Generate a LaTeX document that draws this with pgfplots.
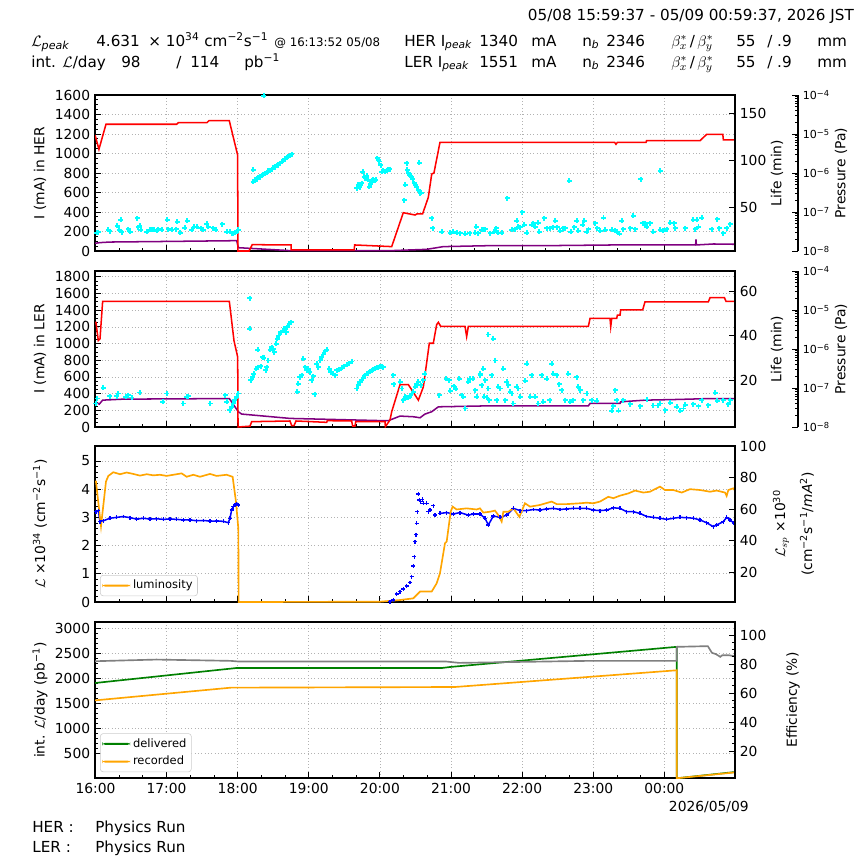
\documentclass[border=0pt]{standalone}
\usepackage{pgfplots}
\pgfplotsset{compat=1.18}
\usepackage{fontspec}
\setmainfont{DejaVu Sans}
\definecolor{lumorange}{RGB}{255,165,0}
\definecolor{mplgreen}{RGB}{0,128,0}
\definecolor{mplpurple}{RGB}{128,0,128}
\definecolor{mplgray}{RGB}{128,128,128}
\definecolor{mplcyan}{RGB}{0,255,255}
\definecolor{mplblue}{RGB}{0,0,255}
\definecolor{mplred}{RGB}{255,0,0}
\definecolor{leggray}{RGB}{204,204,204}
\pgfplotsset{
 panel/.style={
  scale only axis, width=460.8bp, height=112.32bp,
  xmin=15.9936, xmax=24.9936,
  xtick={16,17,18,19,20,21,22,23,24}, minor x tick num=2,
  xticklabels={},
  xtick pos=left, ytick pos=left, tick align=inside,
  grid=major, major grid style={draw=gray!60, dotted, line width=0.5pt},
  axis line style={line width=0.8pt},
  tick style={black, line width=0.6pt},
  major tick length=4.5bp, minor tick length=2.5bp,
  tick label style={font=\fontsize{10}{12}\selectfont},
  /pgf/number format/assume math mode=true,
  /pgf/number format/1000 sep={},
  scaled y ticks=false,
 },
 rpanel/.style={
  scale only axis, width=460.8bp, height=112.32bp,
  xmin=15.9936, xmax=24.9936,
  axis y line*=right, hide x axis,
  tick align=inside,
  axis line style={line width=0.8pt},
  tick style={black, line width=0.6pt},
  major tick length=4.5bp, minor tick length=2.5bp,
  tick label style={font=\fontsize{10}{12}\selectfont},
  /pgf/number format/assume math mode=true,
 },
 press/.style={
  scale only axis, width=36bp, height=112.32bp, xmin=0, xmax=1,
  ymin=1e-8, ymax=1e-4,
  axis y line*=right, hide x axis, tick align=inside,
  ytick={1e-8,1e-7,1e-6,1e-5,1e-4},
  minor ytick={2e-8,3e-8,4e-8,5e-8,6e-8,7e-8,8e-8,9e-8,2e-7,3e-7,4e-7,5e-7,6e-7,7e-7,8e-7,9e-7,2e-6,3e-6,4e-6,5e-6,6e-6,7e-6,8e-6,9e-6,2e-5,3e-5,4e-5,5e-5,6e-5,7e-5,8e-5,9e-5},
  yticklabels={10\textsuperscript{−8},10\textsuperscript{−7},10\textsuperscript{−6},10\textsuperscript{−5},10\textsuperscript{−4}},
  tick label style={font=\fontsize{8}{9.6}\selectfont},
  major tick length=4bp, minor tick length=2bp,
  axis line style={line width=0.8pt},
  tick style={black, line width=0.6pt},
 },
 cyanpts/.style={only marks, mark=+, mark size=1.8bp, draw=mplcyan, color=mplcyan, mark options={draw=mplcyan, fill=mplcyan, line width=1.3pt, solid}},
 bluepts/.style={draw=mplblue, color=mplblue, mark=+, mark size=1.4bp, mark options={draw=mplblue, line width=0.9pt, solid}},
 leg/.style={legend style={font=\fontsize{8.3}{10}\selectfont, draw=leggray, rounded corners=2pt, fill=white, inner sep=1.5pt, row sep=1pt, cells={anchor=west}},
   legend image code/.code={\path[draw=none, ##1] (0bp,-0.75bp) rectangle (20bp,0.75bp);}},
}
\begin{document}
\begin{tikzpicture}
\useasboundingbox (0,0) rectangle (622.08bp,-622.08bp);
% ---------------- header
\node[anchor=base west, font=\fontsize{11}{13}\selectfont] at (376.56bp,-14.4bp) {05/08 15:59:37 - 05/09 00:59:37, 2026 JST};
\begin{scope}[every node/.style={anchor=base west, font=\fontsize{11}{13}\selectfont, inner sep=0pt}]
\node at (22.32bp,-33.12bp) {$\mathcal{L}_{\mbox{\fontsize{8}{9}\selectfont\itshape peak}}$};
\node at (69.12bp,-33.12bp) {4.631};
\node at (106.56bp,-33.12bp) {× 10\textsuperscript{34} cm\textsuperscript{−2}s\textsuperscript{−1}};
\node[font=\fontsize{8.5}{10}\selectfont] at (197.28bp,-33.12bp) {@ 16:13:52 05/08};
\node at (290.88bp,-33.12bp) {HER I\textsubscript{\itshape peak}};
\node at (344.88bp,-33.12bp) {1340};
\node at (382.32bp,-33.12bp) {mA};
\node at (419.04bp,-33.12bp) {n\textsubscript{\itshape b}};
\node at (436.32bp,-33.12bp) {2346};
\node at (483.12bp,-33.12bp) {$\beta^{*}_{x}$\,/\,$\beta^{*}_{y}$};
\node at (529.92bp,-33.12bp) {55};
\node at (552.24bp,-33.12bp) {/ .9};
\node at (588.24bp,-33.12bp) {mm};
\node at (22.32bp,-48.24bp) {int. $\mathcal{L}$/day};
\node at (87.12bp,-48.24bp) {98};
\node at (126.72bp,-48.24bp) {/};
\node at (136.8bp,-48.24bp) {114};
\node at (175.68bp,-48.24bp) {pb\textsuperscript{−1}};
\node at (290.88bp,-48.24bp) {LER I\textsubscript{\itshape peak}};
\node at (344.88bp,-48.24bp) {1551};
\node at (382.32bp,-48.24bp) {mA};
\node at (419.04bp,-48.24bp) {n\textsubscript{\itshape b}};
\node at (436.32bp,-48.24bp) {2346};
\node at (483.12bp,-48.24bp) {$\beta^{*}_{x}$\,/\,$\beta^{*}_{y}$};
\node at (529.92bp,-48.24bp) {55};
\node at (552.24bp,-48.24bp) {/ .9};
\node at (588.24bp,-48.24bp) {mm};
% footer
\node at (23.04bp,-599.04bp) {HER :};
\node at (68.4bp,-599.04bp) {Physics Run};
\node at (23.04bp,-613.44bp) {LER :};
\node at (68.4bp,-613.44bp) {Physics Run};
\node[anchor=base east, font=\fontsize{10}{12}\selectfont] at (539.28bp,-583.92bp) {2026/05/09};
\end{scope}
% axis labels
\begin{scope}[every node/.style={rotate=90, font=\fontsize{10}{12}\selectfont, anchor=center}]
\node at (28.8bp,-124.56bp) {I (mA) in HER};
\node at (28.8bp,-251.28bp) {I (mA) in LER};
\node at (28.8bp,-377.28bp) {$\mathcal{L}$ ×10\textsuperscript{34} (cm\textsuperscript{−2}s\textsuperscript{−1})};
\node at (28.8bp,-504bp) {int. $\mathcal{L}$/day (pb\textsuperscript{−1})};
\node at (559.44bp,-124.56bp) {Life (min)};
\node at (559.44bp,-251.28bp) {Life (min)};
\node at (605.52bp,-124.56bp) {Pressure (Pa)};
\node at (605.52bp,-251.28bp) {Pressure (Pa)};
\node at (562.32bp,-377.28bp) {$\mathcal{L}_{sp}$ ×10\textsuperscript{30}};
\node at (581.04bp,-377.28bp) {(cm\textsuperscript{−2}s\textsuperscript{−1}/{\itshape mA}\textsuperscript{2})};
\node at (570.96bp,-504bp) {Efficiency (\%)};
\end{scope}

% ================= PANEL 1 : HER
\begin{axis}[panel, at={(68.4bp,-180.72bp)}, anchor=south west,
  ymin=0, ymax=1600, ytick={0,200,...,1600}, minor y tick num=3]
\addplot[cyanpts] coordinates {
(16.017,188)(16.040,192)(16.181,216)(16.204,205)(16.307,257)(16.336,216)(16.354,318)(16.368,192)(16.462,222)(16.486,198)(16.589,335)(16.603,243)(16.626,257)(16.636,216)(16.720,198)(16.767,216)(16.790,222)(16.823,216)(16.861,209)(16.884,222)(16.931,216)(17.011,318)(17.025,222)(17.072,216)(17.133,222)(17.151,301)(17.189,188)(17.259,240)(17.292,311)(17.353,216)(17.386,250)(17.423,250)(17.479,233)(17.517,216)(17.564,277)(17.587,250)(17.657,233)(17.695,216)(17.784,274)(17.845,198)(17.892,198)(17.915,181)(17.939,175)(17.962,188)(17.986,198)(18.009,216)
(18.220,711)(18.244,729)(18.267,735)(18.290,756)(18.314,756)(18.337,777)(18.361,780)(18.384,797)(18.408,804)(18.431,824)(18.455,824)(18.478,841)(18.501,852)(18.525,859)(18.548,879)(18.572,882)(18.595,900)(18.619,913)(18.642,927)(18.666,944)(18.689,954)(18.712,968)(18.736,982)(18.759,992)(18.220,831)(18.37,1590)
(19.673,643)(19.697,677)(19.720,653)(19.744,694)(19.758,814)(19.777,763)(19.791,746)(19.814,770)(19.838,729)(19.852,660)(19.870,688)(19.884,711)(19.908,735)(19.931,722)(19.945,729)(19.964,951)(19.978,934)(19.992,917)(20.011,882)(20.025,814)(20.048,821)(20.072,814)(20.095,824)(20.119,831)(20.142,841)
(20.339,523)(20.353,677)(20.377,900)(20.386,831)(20.400,797)(20.414,780)(20.433,770)(20.447,756)(20.461,735)(20.480,694)(20.494,677)(20.517,660)(20.541,626)(20.564,592)(20.578,599)(20.555,906)(20.728,335)(20.742,233)
(20.869,198)(20.986,188)(21.033,198)(21.080,188)(21.127,181)(21.197,175)(21.267,181)(21.338,188)(21.352,250)(21.384,181)(21.431,216)(21.478,222)
(21.464,222)(21.549,181)(21.605,198)(21.633,233)(21.666,188)(21.713,188)(21.792,540)(21.853,216)(21.900,222)(21.924,311)(21.947,250)(21.971,243)(22.003,397)(22.027,267)(22.064,188)(22.135,267)(22.158,284)(22.182,250)(22.228,291)(22.242,198)(22.308,335)(22.346,233)(22.392,233)(22.439,243)(22.463,311)(22.496,243)(22.533,209)(22.580,233)(22.603,233)(22.664,718)(22.683,198)(22.735,243)(22.768,311)(22.791,209)(22.852,267)(22.871,311)(22.908,198)(22.932,222)(23.025,284)(23.058,233)(23.096,209)(23.143,342)(23.166,216)(23.260,216)(23.307,209)(23.330,198)(23.368,175)(23.400,311)(23.424,222)(23.518,233)(23.564,363)(23.588,222)(23.668,735)(23.696,284)(23.728,284)(23.752,250)(23.799,284)(23.846,198)(23.940,821)(23.940,216)(23.986,209)(24.033,222)(24.080,291)(24.136,284)(24.150,233)(24.291,233)(24.408,318)(24.432,222)(24.455,318)(24.479,250)(24.526,342)(24.666,222)(24.746,328)(24.774,233)(24.830,181)(24.877,233)(24.924,274)
};
\addplot[draw=mplpurple, line width=1.1pt] coordinates {
(15.994,79)(16.064,86)(16.204,92)(17.0,98)(17.986,106)(18.009,34)(18.736,4)(20.2,5)(20.658,17)(20.892,45)(21.549,55)(22.346,55)(23.283,62)(24.40,62)(24.44,62)(24.445,120)(24.45,62)(24.69,72)(24.993,69)
};
\addplot[draw=mplred, line width=1.1pt] coordinates {
(15.994,1190)(16.049,1043)(16.148,1300)(17.142,1300)(17.165,1316)(17.568,1316)(17.596,1337)(17.882,1337)(17.999,985)(18.004,0)(18.16,0)(18.205,65)(18.75,62)(18.752,12)(19.638,12)(19.645,62)(20.166,45)(20.329,393)(20.494,369)(20.52,380)(20.60,380)(20.681,551)(20.729,790)(20.76,800)(20.845,1115)(23.30,1115)(23.32,1095)(23.34,1115)(23.743,1115)(23.75,1132)(24.502,1132)(24.596,1197)(24.822,1197)(24.83,1139)(24.993,1139)
};
\end{axis}
\begin{axis}[rpanel, at={(68.4bp,-180.72bp)}, anchor=south west, ymin=3, ymax=170, ytick={50,100,150}]
\end{axis}
\begin{semilogyaxis}[press, at={(538.56bp,-180.72bp)}, anchor=south west]
\end{semilogyaxis}

% ================= PANEL 2 : LER
\begin{axis}[panel, at={(68.4bp,-307.44bp)}, anchor=south west,
  ymin=0, ymax=1870, ytick={0,200,...,1800}, minor y tick num=3]
\addplot[cyanpts] coordinates {
(16.007,282)(16.026,341)(16.111,472)(16.204,369)(16.298,369)(16.321,401)(16.425,361)(16.462,381)(16.509,353)(16.626,413)(16.945,302)(17.001,401)(17.236,282)(17.283,361)(17.306,369)(17.611,282)(17.822,381)(17.845,302)(17.892,202)(17.915,242)(17.939,282)(17.962,322)(17.986,361)(18.009,401)
(18.173,1544)(18.173,1175)(18.281,925)(18.187,560)(18.211,599)(18.229,639)(18.258,699)(18.290,719)(18.323,727)(18.351,838)(18.370,830)(18.398,679)(18.408,719)(18.431,798)(18.455,925)(18.478,957)(18.501,937)(18.515,897)(18.539,997)(18.558,1056)(18.581,1096)(18.605,1135)(18.633,1155)(18.656,1175)(18.680,1135)(18.698,1195)(18.722,1235)(18.750,1255)
(18.839,421)(18.853,520)(18.876,599)(18.900,619)(18.923,818)(18.947,719)(18.970,679)(18.994,699)(19.017,659)(19.041,560)(19.064,607)(19.087,393)(19.111,758)(19.134,719)(19.158,798)(19.181,838)(19.205,869)(19.228,909)(19.251,925)
(19.289,699)(19.308,659)(19.336,639)(19.369,619)(19.392,679)(19.430,687)(19.462,711)(19.495,727)(19.533,750)(19.570,766)(19.603,786)
(19.673,461)(19.697,500)(19.720,540)(19.744,560)(19.767,592)(19.791,619)(19.814,639)(19.837,647)(19.861,667)(19.884,679)(19.908,691)(19.931,703)(19.955,711)(19.978,719)(20.001,727)(20.025,727)(20.048,719)
(20.189,619)(20.198,512)(20.283,540)(20.306,461)(20.330,322)(20.353,361)(20.377,353)(20.400,353)(20.423,361)(20.447,401)(20.470,421)(20.494,480)(20.517,512)(20.541,540)(20.573,500)(20.611,560)(20.634,639)
(20.836,381)(20.930,580)(20.976,560)(20.986,433)(21.042,488)(21.070,457)(21.117,580)(21.150,381)(21.173,361)(21.197,222)(21.244,540)(21.267,580)(21.305,580)(21.338,441)(21.361,361)(21.408,639)(21.455,699)(21.478,560)(21.525,461)(21.539,322)
(21.408,619)(21.431,500)(21.464,361)(21.502,353)(21.525,1108)(21.596,1056)(21.572,619)(21.619,798)(21.642,322)(21.666,480)(21.689,461)(21.736,699)(21.760,322)(21.783,540)(21.806,500)(21.830,421)(21.853,401)(21.877,282)(21.924,480)(21.947,461)(21.971,361)(22.041,552)(22.064,758)(22.111,361)(22.135,619)(22.182,361)(22.228,282)(22.275,619)(22.299,302)(22.346,580)(22.392,322)(22.416,758)(22.439,639)(22.486,619)(22.524,512)(22.557,441)(22.603,322)(22.650,639)(22.674,302)(22.721,322)(22.768,599)(22.791,480)(22.814,441)(22.861,322)(22.908,401)(22.978,322)(23.049,314)(23.260,195)(23.283,250)(23.307,441)(23.330,322)(23.354,195)(23.424,322)(23.518,274)(23.658,250)(23.752,330)(23.846,258)(23.916,258)(23.940,282)(24.010,202)(24.080,290)(24.174,242)(24.221,195)(24.268,222)(24.291,266)(24.408,274)(24.479,250)(24.526,322)(24.619,262)(24.713,409)(24.746,314)(24.830,322)(24.900,274)(24.924,322)
};
\addplot[draw=mplpurple, line width=1.1pt] coordinates {
(15.994,302)(16.054,274)(16.101,322)(16.392,334)(17.883,341)(18.009,183)(18.056,155)(18.736,103)(20.048,76)(20.119,76)(20.283,131)(20.470,123)(20.564,111)(20.634,155)(20.728,183)(20.822,242)(21.549,254)(22.932,254)(22.955,282)(23.377,282)(23.386,302)(23.728,322)(24.174,330)(24.643,341)(24.993,341)
};
\addplot[draw=mplred, line width=1.1pt] coordinates {
(15.994,1255)(16.007,1255)(16.040,1036)(16.064,1056)(16.101,1505)(17.883,1505)(17.948,1036)(18.000,838)(18.005,0)(18.173,10)(18.197,64)(18.736,72)(18.759,16)(18.792,16)(18.820,72)(19.251,56)(19.261,76)(19.603,72)(19.617,12)(19.650,12)(19.660,64)(20.072,64)(20.077,4)(20.142,84)(20.166,183)(20.283,508)(20.400,508)(20.541,322)(20.611,480)(20.695,1004)(20.751,1004)(20.798,1227)(20.822,1255)(20.855,1207)(21.197,1207)(21.220,1084)(21.244,1207)(22.932,1207)(22.955,1302)(23.236,1302)(23.246,1203)(23.26,1302)(23.330,1302)(23.340,1342)(23.377,1342)(23.386,1405)(23.696,1405)(23.728,1501)(24.619,1501)(24.643,1552)(24.844,1552)(24.868,1505)(24.993,1505)
};
\end{axis}
\begin{axis}[rpanel, at={(68.4bp,-307.44bp)}, anchor=south west, ymin=-1, ymax=69, ytick={20,40,60}]
\end{axis}
\begin{semilogyaxis}[press, at={(538.56bp,-307.44bp)}, anchor=south west]
\end{semilogyaxis}

% ================= PANEL 3 : luminosity
\begin{axis}[panel, leg, at={(68.4bp,-433.44bp)}, anchor=south west,
  ymin=0, ymax=5.53, ytick={0,1,...,5}, minor y tick num=4,
  legend style={at={(0.008,0.038)}, anchor=south west}]
\addlegendimage{fill=lumorange}
\addlegendentry{luminosity}
\addplot[bluepts, line width=1.1pt, forget plot] coordinates {
(16.007,3.20)(16.040,3.24)(16.064,2.85)(16.111,2.88)(16.204,2.97)(16.298,3.00)(16.392,3.03)(16.486,2.99)(16.579,2.94)(16.673,2.97)(16.767,2.94)(16.861,2.95)(16.954,2.93)(17.048,2.94)(17.142,2.93)(17.236,2.91)(17.329,2.91)(17.423,2.88)(17.517,2.89)(17.611,2.87)(17.704,2.87)(17.798,2.86)(17.868,2.81)(17.892,2.97)(17.915,3.26)(17.939,3.38)(17.962,3.44)(17.986,3.47)(18.009,3.44)
};
\addplot[bluepts, only marks, forget plot] coordinates {
(20.142,0.01)(20.189,0.07)(20.235,0.28)(20.282,0.37)(20.329,0.46)(20.376,0.57)(20.423,0.69)(20.446,0.90)(20.470,1.28)(20.484,1.61)(20.493,2.14)(20.507,2.38)(20.517,2.79)(20.526,3.20)(20.540,3.83)(20.554,3.62)(20.573,3.56)(20.596,3.64)(20.610,3.50)(20.657,3.50)(20.681,3.20)(20.704,3.26)(20.751,3.41)(20.775,3.08)
};
\addplot[bluepts, line width=1.1pt, forget plot] coordinates {
(20.845,3.14)(20.939,3.17)(21.032,3.12)(21.126,3.17)(21.243,3.08)(21.314,3.12)(21.407,3.12)(21.478,2.97)(21.525,2.73)(21.595,3.05)(21.689,3.00)(21.782,3.08)(21.876,3.32)(21.970,3.24)(22.064,3.24)(22.157,3.28)(22.251,3.26)(22.345,3.30)(22.439,3.32)(22.533,3.28)(22.626,3.30)(22.720,3.32)(22.814,3.32)(22.908,3.32)(23.001,3.26)(23.095,3.24)(23.189,3.26)(23.283,3.34)(23.376,3.32)(23.470,3.20)(23.564,3.20)(23.658,3.14)(23.752,3.03)(23.845,3.00)(23.939,2.97)(24.033,2.93)(24.126,2.97)(24.220,3.00)(24.314,2.99)(24.408,2.97)(24.501,2.91)(24.595,2.81)(24.689,2.67)(24.736,2.73)(24.830,2.85)(24.876,3.00)(24.923,2.91)(24.980,2.79)
};
\addplot[draw=lumorange, line width=1.2pt, forget plot] coordinates {
(15.994,4.27)(16.007,4.27)(16.078,2.69)(16.148,4.27)(16.181,4.47)(16.251,4.60)(16.345,4.53)(16.439,4.59)(16.532,4.54)(16.626,4.48)(16.720,4.53)(16.814,4.49)(16.907,4.51)(17.001,4.47)(17.095,4.51)(17.212,4.56)(17.282,4.44)(17.376,4.51)(17.470,4.44)(17.611,4.54)(17.704,4.47)(17.845,4.51)(17.929,4.44)(17.976,3.56)(18.009,2.61)(18.014,0)
(20.001,0.01)(20.282,0.07)(20.470,0.13)(20.564,0.37)(20.728,0.37)(20.798,0.66)(20.845,1.02)(20.915,2.08)(20.939,2.14)(20.995,3.20)(21.023,3.38)(21.079,3.28)(21.220,3.32)(21.361,3.28)(21.407,3.32)(21.454,3.17)(21.548,3.20)(21.618,3.24)(21.665,3.08)(21.712,2.85)(21.736,3.20)(21.806,3.20)(21.876,3.32)(21.961,3.02)(22.040,3.50)(22.111,3.38)(22.251,3.44)(22.415,3.56)(22.486,3.47)(22.626,3.47)(22.814,3.50)(22.908,3.52)(23.001,3.50)(23.095,3.56)(23.212,3.73)(23.283,3.68)(23.376,3.77)(23.494,3.85)(23.587,3.95)(23.705,3.88)(23.798,3.91)(23.939,4.09)(24.009,3.97)(24.126,3.97)(24.244,3.88)(24.361,4.00)(24.501,3.97)(24.642,3.91)(24.736,3.95)(24.853,3.88)(24.876,3.76)(24.900,3.97)(24.970,4.03)(24.994,3.95)
};
\end{axis}
\begin{axis}[rpanel, at={(68.4bp,-433.44bp)}, anchor=south west, ymin=1, ymax=100, ytick={20,40,60,80,100}]
\end{axis}

% ================= PANEL 4 : integrated
\begin{axis}[panel, leg, at={(68.4bp,-560.16bp)}, anchor=south west,
  ymin=5, ymax=3120, ytick={500,1000,...,3000}, minor y tick num=4,
  xticklabels={16:00,17:00,18:00,19:00,20:00,21:00,22:00,23:00,00:00},
  legend style={at={(0.008,0.038)}, anchor=south west}]
\addlegendimage{fill=mplgreen}
\addlegendentry{delivered}
\addlegendimage{fill=lumorange}
\addlegendentry{recorded}
\addplot[draw=mplgreen, line width=1.2pt, forget plot] coordinates {
(15.994,1902)(17.993,2203)(20.879,2203)(20.996,2223)(24.174,2624)(24.174,0)(24.993,125)
};
\addplot[draw=lumorange, line width=1.2pt, forget plot] coordinates {
(15.994,1555)(17.905,1809)(21.054,1822)(24.174,2156)(24.174,0)(24.993,117)
};
\addplot[draw=mplgray, line width=1.2pt, forget plot] coordinates {
(15.994,2337)(16.856,2370)(17.905,2344)(18.022,2330)(20.938,2330)(21.113,2304)(22.920,2344)(24.174,2344)(24.174,2624)(24.611,2638)(24.670,2504)(24.728,2477)(24.786,2424)(24.815,2457)(24.903,2457)(24.993,2437)
};
\end{axis}
\begin{axis}[rpanel, at={(68.4bp,-560.16bp)}, anchor=south west, ymin=1.4, ymax=109, ytick={20,40,60,80,100}, minor y tick num=3]
\end{axis}
\end{tikzpicture}
\end{document}
